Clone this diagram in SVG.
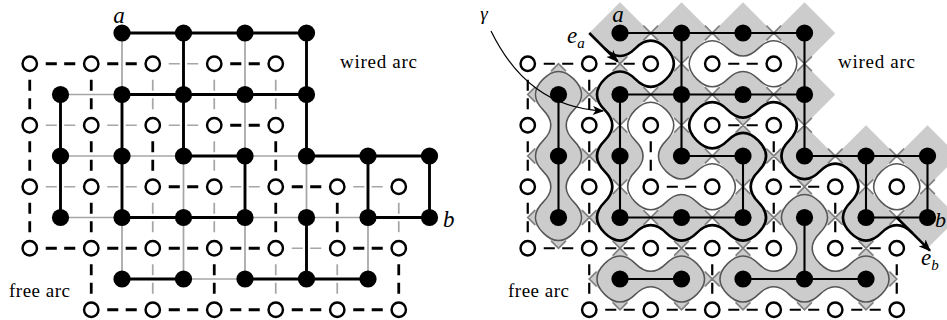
<svg xmlns="http://www.w3.org/2000/svg" width="947" height="320" viewBox="0 0 947 320">
<style>
.po{stroke:#000;stroke-width:0.047;fill:none}
.pc{stroke:#a6a6a6;stroke-width:0.028;fill:none}
.dd{stroke:#000;stroke-width:0.045;stroke-dasharray:0.18 0.12 0.18 0.52;stroke-dashoffset:0.74;fill:none}
.dg{stroke:#a6a6a6;stroke-width:0.028;stroke-dasharray:0.18 0.12 0.18 0.52;stroke-dashoffset:0.74;fill:none}
.rpo{stroke:#000;stroke-width:0.034;fill:none}
.rdd{stroke:#000;stroke-width:0.036;stroke-dasharray:0.18 0.12 0.18 0.52;stroke-dashoffset:0.74;fill:none}
.lg{fill:#cccccc;stroke:#555555;stroke-width:0.024}
.lw{fill:#ffffff;stroke:#555555;stroke-width:0.024}
.gam{fill:none;stroke:#000;stroke-width:0.042}
.t{font-family:"Liberation Serif","DejaVu Serif",serif;fill:#000}
.ti{font-family:"Liberation Serif","DejaVu Serif",serif;font-style:italic;fill:#000}
</style>
<defs>
<circle id="pn" r="0.14" fill="#000"/>
<circle id="dn" r="0.117" fill="#fff" stroke="#000" stroke-width="0.04"/>
<marker id="ah" viewBox="0 0 10 8" refX="9" refY="4" markerWidth="0.2" markerHeight="0.16" markerUnits="userSpaceOnUse" orient="auto"><path d="M0,0L10,4L0,8L2.5,4z" fill="#000"/></marker>
<marker id="ahp" viewBox="0 0 10 8" refX="9" refY="4" markerWidth="12" markerHeight="9" markerUnits="userSpaceOnUse" orient="auto"><path d="M0,0L10,4L0,8L2.5,4z" fill="#000"/></marker>
</defs>

<!-- LEFT PANEL -->
<g id="left" transform="translate(60.5,33) scale(61.5)">
<g id="L-connectors">
<path class="pc" d="M0,1H1M0,2H2M3,2H4M0,3H1M3,3H5M2,4H3M1,0V1M3,0V2M2,2V4M4,2V3M1,3V4M3,3V4M5,3V4"/>
<path class="dg" d="M1.5,.5v1M1.5,2.5v1M1.5,3.5v1M2.5,.5v1M2.5,1.5v1M2.5,2.5v1M3.5,.5v1M3.5,3.5v1M4.5,3.5v1M5.5,2.5v1M1.5,.5h1M-.5,1.5h1M.5,1.5h1M1.5,1.5h1M-.5,2.5h1M.5,2.5h1M2.5,2.5h1M4.5,2.5h1M3.5,3.5h1"/>
<path class="po" d="M1,0H4M1,1H4M2,2H3M4,2H6M1,3H3M5,3H6M1,4H2M3,4H5M2,0V2M4,0V2M0,1V3M1,1V3M3,2V3M5,2V3M6,2V3M4,3V4"/>
<path class="dd" d="M.5,.5v1M.5,1.5v1M1.5,1.5v1M3.5,1.5v1M.5,2.5v1M3.5,2.5v1M4.5,2.5v1M2.5,3.5v1M.5,.5h1M2.5,.5h1M2.5,1.5h1M1.5,2.5h1M3.5,2.5h1M.5,3.5h1M1.5,3.5h1M2.5,3.5h1M4.5,3.5h1M-.5,.5h1M-.5,.5v1M-.5,1.5v1M-.5,2.5v1M-.5,3.5h1M.5,3.5v1M.5,4.5h1M1.5,4.5h1M2.5,4.5h1M3.5,4.5h1M4.5,4.5h1M5.5,3.5v1"/>
</g>
<g id="L-nodes">
<g id="Lp10"><use href="#pn" x="1" y="0"/></g><g id="Lp20"><use href="#pn" x="2" y="0"/></g><g id="Lp30"><use href="#pn" x="3" y="0"/></g><g id="Lp40"><use href="#pn" x="4" y="0"/></g>
<g id="Lp01"><use href="#pn" x="0" y="1"/></g><g id="Lp11"><use href="#pn" x="1" y="1"/></g><g id="Lp21"><use href="#pn" x="2" y="1"/></g><g id="Lp31"><use href="#pn" x="3" y="1"/></g><g id="Lp41"><use href="#pn" x="4" y="1"/></g>
<g id="Lp02"><use href="#pn" x="0" y="2"/></g><g id="Lp12"><use href="#pn" x="1" y="2"/></g><g id="Lp22"><use href="#pn" x="2" y="2"/></g><g id="Lp32"><use href="#pn" x="3" y="2"/></g><g id="Lp42"><use href="#pn" x="4" y="2"/></g><g id="Lp52"><use href="#pn" x="5" y="2"/></g><g id="Lp62"><use href="#pn" x="6" y="2"/></g>
<g id="Lp03"><use href="#pn" x="0" y="3"/></g><g id="Lp13"><use href="#pn" x="1" y="3"/></g><g id="Lp23"><use href="#pn" x="2" y="3"/></g><g id="Lp33"><use href="#pn" x="3" y="3"/></g><g id="Lp43"><use href="#pn" x="4" y="3"/></g><g id="Lp53"><use href="#pn" x="5" y="3"/></g><g id="Lp63"><use href="#pn" x="6" y="3"/></g>
<g id="Lp14"><use href="#pn" x="1" y="4"/></g><g id="Lp24"><use href="#pn" x="2" y="4"/></g><g id="Lp34"><use href="#pn" x="3" y="4"/></g><g id="Lp44"><use href="#pn" x="4" y="4"/></g><g id="Lp54"><use href="#pn" x="5" y="4"/></g>
<g id="Ld00"><use href="#dn" x="-0.5" y="0.5"/></g><g id="Ld10"><use href="#dn" x="0.5" y="0.5"/></g><g id="Ld20"><use href="#dn" x="1.5" y="0.5"/></g><g id="Ld30"><use href="#dn" x="2.5" y="0.5"/></g><g id="Ld40"><use href="#dn" x="3.5" y="0.5"/></g>
<g id="Ld01"><use href="#dn" x="-0.5" y="1.5"/></g><g id="Ld11"><use href="#dn" x="0.5" y="1.5"/></g><g id="Ld21"><use href="#dn" x="1.5" y="1.5"/></g><g id="Ld31"><use href="#dn" x="2.5" y="1.5"/></g><g id="Ld41"><use href="#dn" x="3.5" y="1.5"/></g>
<g id="Ld02"><use href="#dn" x="-0.5" y="2.5"/></g><g id="Ld12"><use href="#dn" x="0.5" y="2.5"/></g><g id="Ld22"><use href="#dn" x="1.5" y="2.5"/></g><g id="Ld32"><use href="#dn" x="2.5" y="2.5"/></g><g id="Ld42"><use href="#dn" x="3.5" y="2.5"/></g><g id="Ld52"><use href="#dn" x="4.5" y="2.5"/></g><g id="Ld62"><use href="#dn" x="5.5" y="2.5"/></g>
<g id="Ld03"><use href="#dn" x="-0.5" y="3.5"/></g><g id="Ld13"><use href="#dn" x="0.5" y="3.5"/></g><g id="Ld23"><use href="#dn" x="1.5" y="3.5"/></g><g id="Ld33"><use href="#dn" x="2.5" y="3.5"/></g><g id="Ld43"><use href="#dn" x="3.5" y="3.5"/></g><g id="Ld53"><use href="#dn" x="4.5" y="3.5"/></g><g id="Ld63"><use href="#dn" x="5.5" y="3.5"/></g>
<g id="Ld14"><use href="#dn" x="0.5" y="4.5"/></g><g id="Ld24"><use href="#dn" x="1.5" y="4.5"/></g><g id="Ld34"><use href="#dn" x="2.5" y="4.5"/></g><g id="Ld44"><use href="#dn" x="3.5" y="4.5"/></g><g id="Ld54"><use href="#dn" x="4.5" y="4.5"/></g><g id="Ld64"><use href="#dn" x="5.5" y="4.5"/></g>
</g>
</g>

<!-- RIGHT PANEL -->
<g id="right" transform="translate(558.5,33) scale(61.5)">
<path id="R-checker" fill="#cccccc" d="M.5,0l.5-.5.5.5-.5.5zm1,0l.5-.5.5.5-.5.5zm1,0l.5-.5.5.5-.5.5zm1,0l.5-.5.5.5-.5.5zM-.5,1l.5-.5.5.5-.5.5zm1,0l.5-.5.5.5-.5.5zm1,0l.5-.5.5.5-.5.5zm1,0l.5-.5.5.5-.5.5zm1,0l.5-.5.5.5-.5.5zM-.5,2l.5-.5.5.5-.5.5zm1,0l.5-.5.5.5-.5.5zm1,0l.5-.5.5.5-.5.5zm1,0l.5-.5.5.5-.5.5zm1,0l.5-.5.5.5-.5.5zm1,0l.5-.5.5.5-.5.5zm1,0l.5-.5.5.5-.5.5zM-.5,3l.5-.5.5.5-.5.5zm1,0l.5-.5.5.5-.5.5zm1,0l.5-.5.5.5-.5.5zm1,0l.5-.5.5.5-.5.5zm1,0l.5-.5.5.5-.5.5zm1,0l.5-.5.5.5-.5.5zm1,0l.5-.5.5.5-.5.5zM.5,4l.5-.5.5.5-.5.5zm1,0l.5-.5.5.5-.5.5zm1,0l.5-.5.5.5-.5.5zm1,0l.5-.5.5.5-.5.5zm1,0l.5-.5.5.5-.5.5z"/>
<path id="R-medial" fill="none" stroke="#808080" stroke-width="0.028" d="M1.5,0m-.12-.12l.24.24m0-.24l-.24.24M2.5,0m-.12-.12l.24.24m0-.24l-.24.24M3.5,0m-.12-.12l.24.24m0-.24l-.24.24M.5,1m-.12-.12l.24.24m0-.24l-.24.24M1.5,1m-.12-.12l.24.24m0-.24l-.24.24M2.5,1m-.12-.12l.24.24m0-.24l-.24.24M3.5,1m-.12-.12l.24.24m0-.24l-.24.24M.5,2m-.12-.12l.24.24m0-.24l-.24.24M1.5,2m-.12-.12l.24.24m0-.24l-.24.24M2.5,2m-.12-.12l.24.24m0-.24l-.24.24M3.5,2m-.12-.12l.24.24m0-.24l-.24.24M4.5,2m-.12-.12l.24.24m0-.24l-.24.24M5.5,2m-.12-.12l.24.24m0-.24l-.24.24M.5,3m-.12-.12l.24.24m0-.24l-.24.24M1.5,3m-.12-.12l.24.24m0-.24l-.24.24M2.5,3m-.12-.12l.24.24m0-.24l-.24.24M3.5,3m-.12-.12l.24.24m0-.24l-.24.24M4.5,3m-.12-.12l.24.24m0-.24l-.24.24M5.5,3m-.12-.12l.24.24m0-.24l-.24.24M1.5,4m-.12-.12l.24.24m0-.24l-.24.24M2.5,4m-.12-.12l.24.24m0-.24l-.24.24M3.5,4m-.12-.12l.24.24m0-.24l-.24.24M4.5,4m-.12-.12l.24.24m0-.24l-.24.24M1,.5m-.12-.12l.24.24m0-.24l-.24.24M2,.5m-.12-.12l.24.24m0-.24l-.24.24M3,.5m-.12-.12l.24.24m0-.24l-.24.24M4,.5m-.12-.12l.24.24m0-.24l-.24.24M0,1.5m-.12-.12l.24.24m0-.24l-.24.24M1,1.5m-.12-.12l.24.24m0-.24l-.24.24M2,1.5m-.12-.12l.24.24m0-.24l-.24.24M3,1.5m-.12-.12l.24.24m0-.24l-.24.24M4,1.5m-.12-.12l.24.24m0-.24l-.24.24M0,2.5m-.12-.12l.24.24m0-.24l-.24.24M1,2.5m-.12-.12l.24.24m0-.24l-.24.24M2,2.5m-.12-.12l.24.24m0-.24l-.24.24M3,2.5m-.12-.12l.24.24m0-.24l-.24.24M4,2.5m-.12-.12l.24.24m0-.24l-.24.24M5,2.5m-.12-.12l.24.24m0-.24l-.24.24M6,2.5m-.12-.12l.24.24m0-.24l-.24.24M1,3.5m-.12-.12l.24.24m0-.24l-.24.24M2,3.5m-.12-.12l.24.24m0-.24l-.24.24M3,3.5m-.12-.12l.24.24m0-.24l-.24.24M4,3.5m-.12-.12l.24.24m0-.24l-.24.24M5,3.5m-.12-.12l.24.24m0-.24l-.24.24M-.12,.62L0,.5L.12,.62M-.38,.88L-.5,1L-.38,1.12M-.38,1.88L-.5,2L-.38,2.12M-.38,2.88L-.5,3L-.38,3.12M-.12,3.38L0,3.5L.12,3.38M.62,3.88L.5,4L.62,4.12M.88,4.38L1,4.5L1.12,4.38M1.88,4.38L2,4.5L2.12,4.38M2.88,4.38L3,4.5L3.12,4.38M3.88,4.38L4,4.5L4.12,4.38M4.88,4.38L5,4.5L5.12,4.38M5.38,3.88L5.5,4L5.38,4.12"/>
<g id="R-loops">
<path id="loopC1" class="lg" d="M.25,.75Q0,.5-.25,.75Q-.5,1-.25,1.25Q0,1.5-.25,1.75Q-.5,2-.25,2.25Q0,2.5-.25,2.75Q-.5,3-.25,3.25Q0,3.5 .25,3.25Q.5,3 .25,2.75Q0,2.5 .25,2.25Q.5,2 .25,1.75Q0,1.5 .25,1.25Q.5,1 .25,.75Z"/>
<path id="loopC2" class="lg" d="M3.75,2.75Q4,2.5 4.25,2.75Q4.5,3 4.25,3.25Q4,3.5 4.25,3.75Q4.5,4 4.75,3.75Q5,3.5 5.25,3.75Q5.5,4 5.25,4.25Q5,4.5 4.75,4.25Q4.5,4 4.25,4.25Q4,4.5 3.75,4.25Q3.5,4 3.25,4.25Q3,4.5 2.75,4.25Q2.5,4 2.75,3.75Q3,3.5 3.25,3.75Q3.5,4 3.75,3.75Q4,3.5 3.75,3.25Q3.5,3 3.75,2.75Z"/>
<path id="loopC3" class="lg" d="M.75,3.75Q1,3.5 1.25,3.75Q1.5,4 1.75,3.75Q2,3.5 2.25,3.75Q2.5,4 2.25,4.25Q2,4.5 1.75,4.25Q1.5,4 1.25,4.25Q1,4.5 .75,4.25Q.5,4 .75,3.75Z"/>
<path id="loopD1" class="lw" d="M2.25,.25Q2.5,0 2.75,.25Q3,.5 3.25,.25Q3.5,0 3.75,.25Q4,.5 3.75,.75Q3.5,1 3.25,.75Q3,.5 2.75,.75Q2.5,1 2.25,.75Q2,.5 2.25,.25Z"/>
<path id="loopD2" class="lw" d="M1.25,1.25Q1.5,1 1.75,1.25Q2,1.5 1.75,1.75Q1.5,2 1.75,2.25Q2,2.5 2.25,2.25Q2.5,2 2.75,2.25Q3,2.5 2.75,2.75Q2.5,3 2.25,2.75Q2,2.5 1.75,2.75Q1.5,3 1.25,2.75Q1,2.5 1.25,2.25Q1.5,2 1.25,1.75Q1,1.5 1.25,1.25Z"/>
<path id="loopD3" class="lw" d="M5.25,2.25Q5.5,2 5.75,2.25Q6,2.5 5.75,2.75Q5.5,3 5.25,2.75Q5,2.5 5.25,2.25Z"/>
</g>
<g id="R-connectors">
<path class="rpo" d="M1,0H4M1,1H4M2,2H3M4,2H6M1,3H3M5,3H6M1,4H2M3,4H5M2,0V2M4,0V2M0,1V3M1,1V3M3,2V3M5,2V3M6,2V3M4,3V4"/>
<path class="rdd" d="M.5,.5v1M.5,1.5v1M1.5,1.5v1M3.5,1.5v1M.5,2.5v1M3.5,2.5v1M4.5,2.5v1M2.5,3.5v1M.5,.5h1M2.5,.5h1M2.5,1.5h1M1.5,2.5h1M3.5,2.5h1M.5,3.5h1M1.5,3.5h1M2.5,3.5h1M4.5,3.5h1M-.5,.5h1M-.5,.5v1M-.5,1.5v1M-.5,2.5v1M-.5,3.5h1M.5,3.5v1M.5,4.5h1M1.5,4.5h1M2.5,4.5h1M3.5,4.5h1M4.5,4.5h1M5.5,3.5v1"/>
<path id="gamma" class="gam" d="M.75,.25Q1,.5 1.25,.25Q1.5,0 1.75,.25Q2,.5 1.75,.75Q1.5,1 1.25,.75Q1,.5 .75,.75Q.5,1 .75,1.25Q1,1.5 .75,1.75Q.5,2 .75,2.25Q1,2.5 .75,2.75Q.5,3 .75,3.25Q1,3.5 1.25,3.25Q1.5,3 1.75,3.25Q2,3.5 2.25,3.25Q2.5,3 2.75,3.25Q3,3.5 3.25,3.25Q3.5,3 3.25,2.75Q3,2.5 3.25,2.25Q3.5,2 3.25,1.75Q3,1.5 2.75,1.75Q2.5,2 2.25,1.75Q2,1.5 2.25,1.25Q2.5,1 2.75,1.25Q3,1.5 3.25,1.25Q3.5,1 3.75,1.25Q4,1.5 3.75,1.75Q3.5,2 3.75,2.25Q4,2.5 4.25,2.25Q4.5,2 4.75,2.25Q5,2.5 4.75,2.75Q4.5,3 4.75,3.25Q5,3.5 5.25,3.25Q5.5,3 5.75,3.25"/>
<path id="ea" class="gam" d="M.5,0L.96,.46" marker-end="url(#ah)"/>
<path id="eb" class="gam" d="M5.5,3L6.04,3.54" marker-end="url(#ah)"/>
</g>
<g id="R-nodes">
<g id="Rp10"><use href="#pn" x="1" y="0"/></g><g id="Rp20"><use href="#pn" x="2" y="0"/></g><g id="Rp30"><use href="#pn" x="3" y="0"/></g><g id="Rp40"><use href="#pn" x="4" y="0"/></g>
<g id="Rp01"><use href="#pn" x="0" y="1"/></g><g id="Rp11"><use href="#pn" x="1" y="1"/></g><g id="Rp21"><use href="#pn" x="2" y="1"/></g><g id="Rp31"><use href="#pn" x="3" y="1"/></g><g id="Rp41"><use href="#pn" x="4" y="1"/></g>
<g id="Rp02"><use href="#pn" x="0" y="2"/></g><g id="Rp12"><use href="#pn" x="1" y="2"/></g><g id="Rp22"><use href="#pn" x="2" y="2"/></g><g id="Rp32"><use href="#pn" x="3" y="2"/></g><g id="Rp42"><use href="#pn" x="4" y="2"/></g><g id="Rp52"><use href="#pn" x="5" y="2"/></g><g id="Rp62"><use href="#pn" x="6" y="2"/></g>
<g id="Rp03"><use href="#pn" x="0" y="3"/></g><g id="Rp13"><use href="#pn" x="1" y="3"/></g><g id="Rp23"><use href="#pn" x="2" y="3"/></g><g id="Rp33"><use href="#pn" x="3" y="3"/></g><g id="Rp43"><use href="#pn" x="4" y="3"/></g><g id="Rp53"><use href="#pn" x="5" y="3"/></g><g id="Rp63"><use href="#pn" x="6" y="3"/></g>
<g id="Rp14"><use href="#pn" x="1" y="4"/></g><g id="Rp24"><use href="#pn" x="2" y="4"/></g><g id="Rp34"><use href="#pn" x="3" y="4"/></g><g id="Rp44"><use href="#pn" x="4" y="4"/></g><g id="Rp54"><use href="#pn" x="5" y="4"/></g>
<g id="Rd00"><use href="#dn" x="-0.5" y="0.5"/></g><g id="Rd10"><use href="#dn" x="0.5" y="0.5"/></g><g id="Rd20"><use href="#dn" x="1.5" y="0.5"/></g><g id="Rd30"><use href="#dn" x="2.5" y="0.5"/></g><g id="Rd40"><use href="#dn" x="3.5" y="0.5"/></g>
<g id="Rd01"><use href="#dn" x="-0.5" y="1.5"/></g><g id="Rd11"><use href="#dn" x="0.5" y="1.5"/></g><g id="Rd21"><use href="#dn" x="1.5" y="1.5"/></g><g id="Rd31"><use href="#dn" x="2.5" y="1.5"/></g><g id="Rd41"><use href="#dn" x="3.5" y="1.5"/></g>
<g id="Rd02"><use href="#dn" x="-0.5" y="2.5"/></g><g id="Rd12"><use href="#dn" x="0.5" y="2.5"/></g><g id="Rd22"><use href="#dn" x="1.5" y="2.5"/></g><g id="Rd32"><use href="#dn" x="2.5" y="2.5"/></g><g id="Rd42"><use href="#dn" x="3.5" y="2.5"/></g><g id="Rd52"><use href="#dn" x="4.5" y="2.5"/></g><g id="Rd62"><use href="#dn" x="5.5" y="2.5"/></g>
<g id="Rd03"><use href="#dn" x="-0.5" y="3.5"/></g><g id="Rd13"><use href="#dn" x="0.5" y="3.5"/></g><g id="Rd23"><use href="#dn" x="1.5" y="3.5"/></g><g id="Rd33"><use href="#dn" x="2.5" y="3.5"/></g><g id="Rd43"><use href="#dn" x="3.5" y="3.5"/></g><g id="Rd53"><use href="#dn" x="4.5" y="3.5"/></g><g id="Rd63"><use href="#dn" x="5.5" y="3.5"/></g>
<g id="Rd14"><use href="#dn" x="0.5" y="4.5"/></g><g id="Rd24"><use href="#dn" x="1.5" y="4.5"/></g><g id="Rd34"><use href="#dn" x="2.5" y="4.5"/></g><g id="Rd44"><use href="#dn" x="3.5" y="4.5"/></g><g id="Rd54"><use href="#dn" x="4.5" y="4.5"/></g><g id="Rd64"><use href="#dn" x="5.5" y="4.5"/></g>
</g>
</g>

<g id="gamma-pointer">
<path d="M491,31C515,80 550,108 603,111" fill="none" stroke="#000" stroke-width="1.2" marker-end="url(#ahp)"/>
</g>

<g id="labels">
<text class="ti" x="119" y="23" font-size="23" text-anchor="middle">a</text>
<text class="ti" x="443" y="227" font-size="23">b</text>
<text class="t" x="340" y="68" font-size="19" textLength="77">wired arc</text>
<text class="t" x="9" y="297" font-size="19" textLength="61">free arc</text>
<text class="ti" x="618" y="22" font-size="23" text-anchor="middle">a</text>
<text class="ti" x="935" y="227" font-size="22">b</text>
<text class="t" x="838" y="68" font-size="19" textLength="77">wired arc</text>
<text class="t" x="508" y="297" font-size="19" textLength="61">free arc</text>
<text class="ti" x="484" y="20" font-size="19" text-anchor="middle">γ</text>
<text class="ti" x="567" y="43" font-size="23">e<tspan font-size="15" dy="5">a</tspan></text>
<text class="ti" x="921" y="265" font-size="23">e<tspan font-size="15" dy="5">b</tspan></text>
</g>
</svg>
